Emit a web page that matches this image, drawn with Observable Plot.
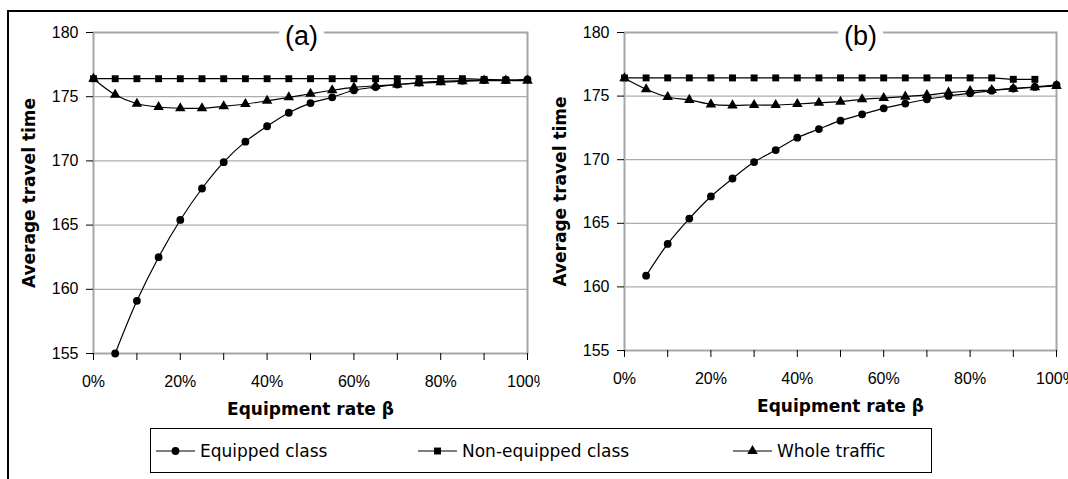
<!DOCTYPE html>
<html>
<head>
<meta charset="utf-8">
<script src="https://cdn.jsdelivr.net/npm/d3@7"></script>
<script src="https://cdn.jsdelivr.net/npm/@observablehq/plot@0.6"></script>
<style>
html, body { margin: 0; padding: 0; background: #fff; }
#root { position: relative; width: 1068px; height: 479px; overflow: hidden; background: #fff; }
.panel { position: absolute; top: 0; }
.panel svg { overflow: hidden; display: block; }
#border { position: absolute; left: 7px; top: 10px; width: 1200px; height: 700px; border: 2px solid #000; box-sizing: border-box; pointer-events: none; }
#legend { position: absolute; left: 150px; top: 428px; width: 782px; height: 45px; border: 1px solid #000; box-sizing: border-box; background: #fff; }
.item { position: absolute; top: 0; height: 43px; display: flex; align-items: center; font-family: "DejaVu Sans", sans-serif; font-size: 17px; color: #000; white-space: nowrap; }
.item svg { margin-right: 5px; }
</style>
</head>
<body>
<div id="root">
  <div id="pa" class="panel" style="left:0px"></div>
  <div id="pb" class="panel" style="left:540px"></div>
  <div id="legend"></div>
  <div id="border"></div>
</div>
<script>
// ---- data ----
const rates = [0, 5, 10, 15, 20, 25, 30, 35, 40, 45, 50, 55, 60, 65, 70, 75, 80, 85, 90, 95, 100];
const seriesNames = ["Equipped class", "Non-equipped class", "Whole traffic"];
const seriesSymbols = ["circle", "square", "triangle"];

const equippedA = [null, 155.0, 159.1, 162.5, 165.4, 167.85, 169.9, 171.5, 172.7, 173.75, 174.5, 174.95, 175.5, 175.75, 175.95, 176.1, 176.2, 176.25, 176.3, 176.3, 176.35];
const nonEquippedA = [176.4, 176.4, 176.4, 176.4, 176.4, 176.4, 176.4, 176.4, 176.4, 176.4, 176.4, 176.4, 176.4, 176.4, 176.4, 176.4, 176.4, 176.4, 176.35, 176.3, null];
const wholeA = [176.4, 175.15, 174.45, 174.2, 174.1, 174.1, 174.25, 174.43, 174.68, 174.95, 175.23, 175.5, 175.72, 175.85, 175.95, 176.05, 176.12, 176.2, 176.25, 176.25, 176.25];

const equippedB = [null, 160.88, 163.38, 165.37, 167.11, 168.52, 169.81, 170.76, 171.73, 172.41, 173.07, 173.57, 174.04, 174.41, 174.75, 175.01, 175.22, 175.43, 175.59, 175.72, 175.88];
const nonEquippedB = [176.43, 176.43, 176.43, 176.43, 176.43, 176.43, 176.43, 176.43, 176.43, 176.43, 176.43, 176.43, 176.43, 176.43, 176.43, 176.43, 176.43, 176.43, 176.32, 176.32, null];
const wholeB = [176.4, 175.54, 174.93, 174.7, 174.35, 174.27, 174.3, 174.3, 174.38, 174.48, 174.56, 174.75, 174.85, 174.96, 175.09, 175.27, 175.4, 175.48, 175.59, 175.69, 175.8];

const xTicks = [0, 10, 20, 30, 40, 50, 60, 70, 80, 90, 100];
const xTickLabels = ["0%", "", "20%", "", "40%", "", "60%", "", "80%", "", "100%"];
const yTicks = [155, 160, 165, 170, 175, 180];
const yGrid = [160, 165, 170, 175];
const xLabel = "Equipment rate β";
const yLabel = "Average travel time";

function rows(eq, ne, wt) {
  const out = [];
  [eq, ne, wt].forEach((vals, s) => vals.forEach((v, i) => {
    if (v != null) out.push({rate: rates[i], value: v, series: seriesNames[s]});
  }));
  return out;
}

function panel(data, title, opts) {
  return Plot.plot({
    width: opts.width,
    height: 420,
    marginTop: 32,
    marginLeft: opts.marginLeft,
    marginRight: opts.marginRight,
    marginBottom: opts.marginBottom,
    style: {fontFamily: "'Liberation Sans', Arial, sans-serif", fontSize: "16px", color: "#000", background: "transparent", overflow: "hidden"},
    x: {domain: [0, 100]},
    y: {domain: [155, 180]},
    symbol: {domain: seriesNames, range: seriesSymbols},
    marks: [
      Plot.gridY(yGrid, {stroke: "#999", strokeOpacity: 1, strokeWidth: 1}),
      Plot.frame({stroke: "#a6a6a6", strokeWidth: 2}),
      Plot.line(data, {x: "rate", y: "value", z: "series", curve: "catmull-rom", stroke: "#000", strokeWidth: 1.2}),
      Plot.dot(data, {x: "rate", y: "value", symbol: "series", r: 3.9, fill: "#000", stroke: "none"}),
      Plot.axisX({ticks: xTicks, tickFormat: d => xTickLabels[xTicks.indexOf(d)], tickSize: 7, tickPadding: 15, line: true, stroke: "#000", label: null, fontSize: 16, fontFamily: "Liberation Sans"}),
      Plot.axisX({ticks: [], label: xLabel, labelAnchor: "center", labelArrow: "none", labelOffset: 61, fontFamily: "DejaVu Sans", fontWeight: "bold", fontSize: 17}),
      Plot.axisY({ticks: yTicks, tickSize: 7, tickPadding: 8, line: true, stroke: "#000", label: null, fontSize: 16, fontFamily: "Liberation Sans"}),
      Plot.axisY({ticks: [], label: yLabel, labelAnchor: "center", labelArrow: "none", labelOffset: 71, fontFamily: "DejaVu Sans", fontWeight: "bold", fontSize: 17}),
      Plot.text([title], {frameAnchor: "top", dx: opts.titleDx, dy: 4, lineAnchor: "middle", fontSize: 27, fill: "#000", stroke: "#fff", strokeWidth: 16, paintOrder: "stroke"})
    ]
  });
}

document.getElementById("pa").append(panel(rows(equippedA, nonEquippedA, wholeA), "(a)", {width: 540, marginLeft: 93, marginRight: 13, marginBottom: 67, titleDx: -9}));
document.getElementById("pb").append(panel(rows(equippedB, nonEquippedB, wholeB), "(b)", {width: 528, marginLeft: 84, marginRight: 12, marginBottom: 70, titleDx: 20}));

// ---- legend ----
const legendLeft = [5, 267, 582];
const legend = document.getElementById("legend");
seriesNames.forEach((name, i) => {
  const item = document.createElement("div");
  item.className = "item";
  item.style.left = legendLeft[i] + "px";
  const sym = d3.symbol(d3["symbol" + seriesSymbols[i][0].toUpperCase() + seriesSymbols[i].slice(1)], Math.PI * 3.9 * 3.9)();
  item.innerHTML = `<svg width="39" height="14" viewBox="-19.5 -7 39 14"><line x1="-19.5" x2="19.5" y1="0" y2="0" stroke="#000" stroke-width="1.2"/><path d="${sym}" fill="#000"/></svg><span>${name}</span>`;
  legend.append(item);
});
</script>
</body>
</html>
